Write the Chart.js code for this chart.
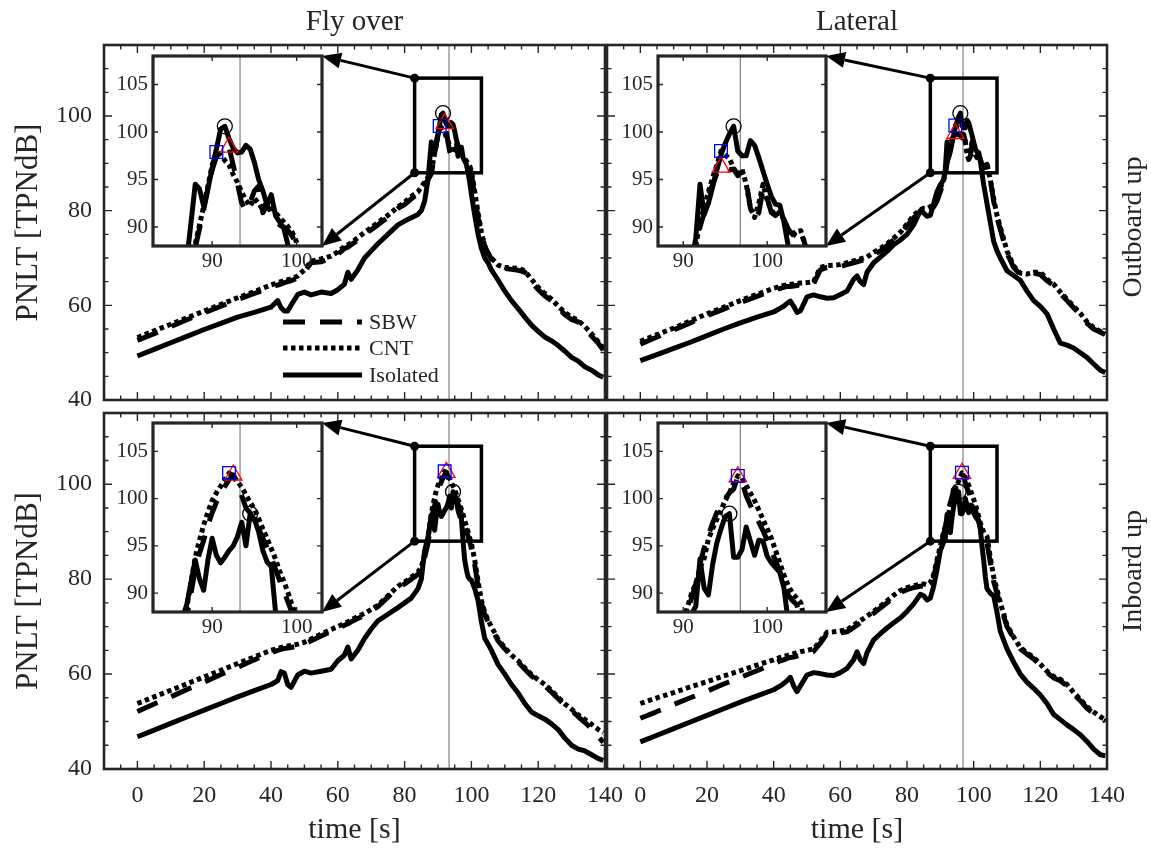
<!DOCTYPE html>
<html>
<head>
<meta charset="utf-8">
<script src="https://cdn.jsdelivr.net/npm/chart.js@4.4.1/dist/chart.umd.min.js"></script>
<style>
html,body{margin:0;padding:0;background:#fff;}
#stage{position:relative;width:1151px;height:851px;overflow:hidden;background:#fff;}
#stage canvas{position:absolute;left:0;top:0;}
</style>
</head>
<body>
<div id="stage"></div>
<script>
// ======================= DATA =======================
const SERIES_LABELS = ['SBW', 'CNT', 'Isolated'];
const COLUMN_TITLES = ['Fly over', 'Lateral'];
const ROW_TITLES = ['Outboard up', 'Inboard up'];
const X_TITLE = 'time [s]';
const Y_TITLE = 'PNLT [TPNdB]';
const X_TICKS = [0, 20, 40, 60, 80, 100, 120, 140];
const Y_TICKS = [40, 60, 80, 100];
const INSET_X_TICKS = [90, 100];
const INSET_Y_TICKS = [90, 95, 100, 105];
const OVERHEAD_T = [93.3, 96.8];          // grey vertical line (fly over, lateral)
const ZOOM_X = [[83, 103], [87, 107]];     // zoomed time window (fly over, lateral)
const ZOOM_Y = [88, 108];

const TIME_FLYOVER = [0,5,10,15,20,25,30,35,40,
  42,43,44,45,46,48,50,52,55,58,
  60,62,63,64,66,68,70,72,75,78,
  80,82,84,85,86,87,88,
  88.5,89,89.5,90,90.5,91,91.5,92,92.5,93,
  93.5,94,94.5,95,95.5,96,96.5,97,97.5,98,
  98.5,99,99.5,100,
  101,102,103,104,105,106,108,110,
  112,114,116,118,120,122,124,126,128,130,
  132,134,136,138,139.5];

const TIME_LATERAL = [0,5,10,15,20,25,30,35,40,
  42,43,44,45,46,47,48,
  50,52,54,56,58,60,62,64,65,66,
  67,68,70,72,74,76,78,80,82,84,
  85,86,87,88,89,90,91,
  91.5,92,92.5,93,93.5,94,94.5,95,95.5,96,
  96.5,97,97.5,98,98.5,99,99.5,100,100.5,101,
  101.5,102,102.5,103,103.5,104,
  105,106,107,108,110,112,114,116,118,120,
  122,124,126,128,130,132,134,136,138,139.5];

// Fly over, outboard up
const FLY_OUT_SBW = [52.6,54.0,55.5,57.0,58.4,59.8,61.2,62.5,63.8,
  64.3,64.5,64.8,65.0,65.2,65.8,67.0,69.0,69.2,70.0,
  70.8,72.0,72.3,72.8,73.8,75.0,76.0,77.0,78.6,80.5,
  81.3,82.5,83.5,84.5,85.5,86.5,87.8,
  89.8,91.8,94.0,96.0,97.4,98.0,98.3,98.4,96.5,94.5,
  92.5,91.8,92.6,93.8,94.3,91.5,92.3,91.5,90.8,90.2,
  90.0,89.6,89.0,88.0,
  83.0,78.5,75.0,72.5,71.0,69.8,68.3,67.8,
  67.6,67.4,67.0,65.0,63.3,62.0,61.0,59.5,58.0,57.0,
  56.5,55.0,53.5,52.0,50.5];
const FLY_OUT_CNT = [53.2,54.6,56.0,57.4,58.8,60.2,61.6,62.9,64.3,
  64.8,65.0,65.2,65.4,65.6,66.2,67.5,69.3,69.8,70.4,
  71.3,72.4,72.8,73.2,74.3,75.4,76.4,77.5,79.0,80.8,
  81.8,83.0,84.0,85.0,86.0,87.0,88.2,
  90.2,92.2,94.3,96.5,97.9,97.6,97.0,96.5,95.5,94.7,
  93.7,92.8,92.2,93.0,92.5,91.8,92.8,92.2,91.5,91.0,
  90.5,90.0,89.4,88.4,
  84.0,79.5,75.5,72.5,71.0,70.0,68.5,68.0,
  67.9,67.8,67.3,65.5,63.8,62.5,61.3,59.8,58.5,57.5,
  56.8,55.5,54.0,52.3,51.0];
const FLY_OUT_ISO = [49.3,50.7,52.1,53.5,54.9,56.2,57.5,58.5,59.6,
  61.0,59.5,58.8,58.8,60.0,62.3,62.8,62.2,62.8,62.5,
  63.3,64.5,67.0,65.5,67.5,70.0,71.5,73.0,75.0,77.0,
  77.8,78.5,79.2,80.0,82.0,86.5,94.5,
  94.0,92.2,94.0,96.2,98.2,100.3,100.6,99.3,98.3,97.8,
  97.9,98.6,98.2,96.8,95.0,93.8,92.3,93.4,91.2,90.5,
  89.8,88.0,86.0,83.5,
  79.0,75.0,72.0,70.0,69.0,67.5,65.3,63.0,
  61.0,59.3,57.5,55.8,54.5,53.3,52.5,51.5,50.3,49.0,
  48.2,47.0,46.3,45.3,44.8];

// Lateral, outboard up
const LAT_OUT_SBW = [51.8,53.3,54.8,56.3,57.8,59.2,60.6,61.9,63.2,
  63.6,63.8,64.0,64.0,64.1,64.2,64.3,
  64.4,64.6,67.5,68.0,68.0,68.2,68.6,69.0,69.2,69.4,
  69.6,69.8,70.8,71.5,72.6,73.8,75.0,76.8,78.5,79.7,
  80.0,80.0,80.2,80.8,82.0,84.0,86.0,
  87.5,90.0,91.5,93.2,94.5,95.6,96.3,96.2,96.0,96.1,
  95.4,95.8,94.8,92.0,90.8,91.5,94.0,93.0,91.5,91.2,
  91.8,90.8,89.8,89.2,89.6,89.8,
  86.5,82.0,78.5,76.0,71.0,68.0,66.5,66.3,66.8,66.5,
  65.2,64.2,62.5,61.0,59.5,58.0,56.2,55.0,54.3,53.8];
const LAT_OUT_CNT = [52.4,53.8,55.2,56.7,58.2,59.6,61.0,62.3,63.6,
  64.0,64.2,64.3,64.4,64.5,64.6,64.7,
  64.8,65.0,68.0,68.4,68.5,68.6,69.0,69.4,69.6,69.8,
  70.0,70.2,71.2,72.0,73.0,74.2,75.4,77.2,79.0,80.2,
  80.5,80.5,80.8,81.5,82.8,84.8,86.5,
  88.0,90.5,92.0,93.7,95.2,96.5,98.0,97.6,97.2,96.2,
  95.5,96.1,94.5,92.0,91.0,92.5,94.5,92.8,91.8,91.2,
  91.6,90.8,89.7,89.0,89.5,89.6,
  86.5,82.5,79.0,76.5,71.5,68.3,66.8,66.6,67.0,67.0,
  65.5,64.5,62.8,61.3,59.8,58.3,56.5,55.3,54.5,54.0];
const LAT_OUT_ISO = [48.3,49.6,50.9,52.2,53.6,55.0,56.3,57.5,58.6,
  59.4,59.8,60.4,60.9,59.8,58.5,58.8,
  61.8,62.2,61.8,61.5,61.6,62.3,63.0,65.5,66.2,65.0,
  64.4,67.0,69.0,70.2,71.4,72.8,73.8,75.0,77.0,80.0,
  79.5,78.8,79.0,81.5,84.0,85.5,86.5,
  88.8,94.5,91.3,92.5,94.2,96.0,97.6,98.8,99.8,100.6,
  98.0,97.5,97.5,99.1,98.6,97.3,95.9,94.5,93.2,92.4,
  92.3,90.5,88.0,85.5,83.5,81.5,
  77.5,73.5,71.5,70.0,67.3,66.3,65.3,63.0,61.0,59.8,
  58.2,55.0,52.0,51.6,51.0,50.0,49.0,47.6,46.3,45.8];

// Fly over, inboard up
const FLY_IN_SBW = [52.1,53.7,55.2,56.8,58.3,59.9,61.4,63.0,64.5,
  65.0,65.2,65.4,65.5,65.6,65.9,66.3,67.0,68.0,69.0,
  69.6,70.3,70.6,71.0,71.7,72.4,73.3,74.2,76.2,78.2,
  79.0,80.0,81.0,82.0,84.5,87.5,92.5,
  94.2,95.6,97.2,98.5,99.6,100.5,101.3,102.0,102.5,101.6,
  100.3,99.0,98.5,97.5,96.8,95.8,94.8,93.8,92.5,91.3,
  90.2,89.0,87.8,86.5,
  83.0,78.5,75.0,72.5,71.0,69.8,67.0,65.3,
  63.8,62.5,61.0,59.6,58.5,57.5,56.2,54.8,53.4,52.3,
  51.0,49.8,48.5,46.8,45.6];
const FLY_IN_CNT = [53.8,55.2,56.6,58.0,59.4,60.8,62.2,63.6,65.0,
  65.4,65.6,65.8,65.9,66.0,66.3,66.7,67.4,68.4,69.4,
  70.0,70.7,71.0,71.4,72.1,72.8,73.6,74.5,76.5,78.5,
  79.4,80.4,81.5,82.5,85.2,88.5,93.8,
  95.6,97.2,98.6,99.8,100.6,101.3,102.0,102.7,102.4,101.8,
  101.2,100.4,99.6,98.9,97.9,96.8,95.8,94.7,93.6,92.3,
  91.2,90.0,88.6,87.5,
  84.0,79.5,75.5,73.0,71.3,70.0,67.3,65.6,
  64.0,62.8,61.3,59.9,58.8,57.8,56.5,55.1,53.7,52.6,
  51.4,50.4,49.4,48.3,47.7];
const FLY_IN_ISO = [46.8,48.2,49.6,51.0,52.4,53.8,55.2,56.5,57.8,
  58.6,60.5,60.2,57.8,57.2,59.8,60.6,60.2,60.6,61.0,
  62.8,64.0,65.7,63.2,65.0,67.5,69.5,71.2,72.6,74.0,
  75.0,76.0,78.0,80.0,86.0,88.8,93.5,
  91.5,90.3,93.5,95.8,94.0,93.2,93.8,94.5,95.0,96.0,
  97.5,95.0,98.4,97.8,96.5,94.5,93.3,92.8,88.0,84.0,
  82.0,80.5,80.0,79.8,
  78.0,75.5,71.0,67.5,66.3,65.0,62.0,60.0,
  57.8,56.0,53.8,52.0,51.2,50.5,49.5,48.3,46.5,45.0,
  44.2,43.8,43.0,42.2,41.8];

// Lateral, inboard up
const LAT_IN_SBW = [50.7,52.1,53.6,55.0,56.4,57.9,59.3,60.7,62.2,
  62.8,63.0,63.3,63.5,63.6,63.8,64.0,
  64.4,64.8,66.5,68.5,68.6,68.7,68.9,69.8,70.3,70.8,
  71.3,71.8,72.8,73.9,75.0,76.2,77.2,77.8,78.2,78.5,
  78.6,78.4,78.8,80.5,83.5,86.5,89.5,
  91.0,93.1,94.8,96.1,97.4,98.5,99.3,100.0,100.6,101.0,
  102.3,101.8,100.3,99.3,98.3,97.5,96.6,95.6,94.5,93.4,
  92.3,91.1,89.8,89.2,88.8,87.5,
  83.5,79.5,77.0,74.5,70.0,67.5,65.3,64.2,63.2,61.8,
  60.3,59.2,58.6,57.5,55.8,54.4,52.8,51.7,50.7,50.1];
const LAT_IN_CNT = [53.8,55.0,56.1,57.3,58.4,59.6,60.7,61.9,63.0,
  63.5,63.7,63.9,64.1,64.3,64.5,64.7,
  65.0,65.3,67.0,68.8,68.9,69.1,69.3,70.3,70.8,71.3,
  71.7,72.2,73.2,74.3,75.4,76.6,77.6,78.2,78.6,78.9,
  79.0,78.8,79.3,81.0,84.0,87.0,90.0,
  91.0,92.7,93.7,95.7,96.8,97.8,98.8,99.8,100.6,101.6,
  102.4,102.2,101.4,100.6,99.8,98.8,97.8,96.8,95.8,94.5,
  93.2,91.9,90.8,90.0,89.5,89.0,
  84.5,80.5,77.8,75.0,70.3,67.8,65.6,64.5,63.5,62.1,
  60.6,59.5,58.9,57.8,56.1,54.7,53.1,52.0,51.0,50.4];
const LAT_IN_ISO = [45.7,47.1,48.5,49.9,51.3,52.7,54.1,55.4,56.7,
  57.5,58.0,58.6,59.3,57.5,56.3,57.5,
  59.8,60.3,60.1,59.8,59.7,60.3,61.2,63.0,64.7,63.0,
  62.2,64.5,67.2,68.5,69.7,70.8,71.8,73.2,74.8,76.8,
  76.5,75.6,76.0,78.5,82.0,86.0,87.8,
  88.6,93.6,90.5,89.8,93.0,95.3,96.8,98.1,98.4,93.8,
  93.8,94.6,97.0,95.5,94.0,95.6,95.5,93.9,93.2,92.7,
  92.2,90.5,87.0,84.0,80.5,78.0,
  77.0,76.5,73.0,69.0,65.3,62.5,60.0,58.3,57.0,55.6,
  53.8,51.5,50.4,49.3,48.3,47.2,45.8,44.2,43.0,42.8];

// ======================= LAYOUT / STYLE =======================
const W = 1151, H = 851;
const INK = '#262626';
const FONT = "'Liberation Serif','Times New Roman',serif";
const COL_X = [[104, 605], [607, 1107]];
const ROW_Y = [[45, 400], [413, 769]];
const INSET_X = [[153, 322], [658, 826]];
const INSET_Y = [[56, 246], [423, 612]];
const ROW_LABEL_Y = [227, 571];
const DASH = {SBW: [22, 15], CNT: [4.5, 3.5], Isolated: []};
const LINE_W = 5;

const PANELS = [
  {row: 0, col: 0, t: TIME_FLYOVER, sbw: FLY_OUT_SBW, cnt: FLY_OUT_CNT, iso: FLY_OUT_ISO, legend: true},
  {row: 0, col: 1, t: TIME_LATERAL, sbw: LAT_OUT_SBW, cnt: LAT_OUT_CNT, iso: LAT_OUT_ISO},
  {row: 1, col: 0, t: TIME_FLYOVER, sbw: FLY_IN_SBW, cnt: FLY_IN_CNT, iso: FLY_IN_ISO},
  {row: 1, col: 1, t: TIME_LATERAL, sbw: LAT_IN_SBW, cnt: LAT_IN_CNT, iso: LAT_IN_ISO}
];

const stage = document.getElementById('stage');
function newCtx() {
  const c = document.createElement('canvas');
  c.width = W; c.height = H;
  c.style.width = W + 'px'; c.style.height = H + 'px';
  stage.appendChild(c);
  return c.getContext('2d');
}
function pts(t, v) { return t.map((x, i) => ({x: x, y: v[i]})); }
function peak(t, v) { let k = 0; for (let i = 1; i < v.length; i++) if (v[i] > v[k]) k = i; return [{x: t[k], y: v[k]}]; }

function makeDatasets(p) {
  const series = [p.sbw, p.cnt, p.iso];
  const ds = SERIES_LABELS.map((lab, i) => ({
    label: lab, data: pts(p.t, series[i]), borderColor: '#000', borderWidth: LINE_W,
    borderDash: DASH[lab], pointRadius: 0, tension: 0, fill: false,
    borderJoinStyle: 'round', borderCapStyle: 'butt', order: 3 - i, clip: 0
  }));
  const mk = (data, style, r, color) => ({label: 'peak', data: data, showLine: false, pointStyle: style,
    pointRadius: r, pointBorderColor: color, pointBackgroundColor: 'rgba(0,0,0,0)', pointBorderWidth: 1.3, order: 0, clip: 0});
  ds.push(mk(peak(p.t, p.iso), 'circle', 7.5, '#000'));
  ds.push(mk(peak(p.t, p.cnt), 'rect', 9, '#0000ff'));
  ds.push(mk(peak(p.t, p.sbw), 'triangle', 10, '#ff0000'));
  return ds;
}

function drawArrow(ctx, x0, y0, x1, y1) {
  const ang = Math.atan2(y1 - y0, x1 - x0), L = 19, Wd = 8;
  const bx = x1 - L * Math.cos(ang), by = y1 - L * Math.sin(ang);
  ctx.beginPath(); ctx.moveTo(x0, y0); ctx.lineTo(bx, by); ctx.stroke();
  ctx.beginPath(); ctx.moveTo(x1, y1);
  ctx.lineTo(bx + Wd * Math.sin(ang), by - Wd * Math.cos(ang));
  ctx.lineTo(bx - Wd * Math.sin(ang), by + Wd * Math.cos(ang));
  ctx.closePath(); ctx.fill();
}

function decorMain(p) {
  return {
    id: 'decorMain',
    beforeDatasetsDraw(chart) {
      const {ctx, chartArea: a, scales: {x}} = chart;
      const px = x.getPixelForValue(OVERHEAD_T[p.col]);
      ctx.save(); ctx.strokeStyle = '#808080'; ctx.lineWidth = 1.2;
      ctx.beginPath(); ctx.moveTo(px, a.top); ctx.lineTo(px, a.bottom); ctx.stroke(); ctx.restore();
    },
    afterDatasetsDraw(chart) {
      const {ctx, chartArea: a, scales: {x, y}} = chart;
      ctx.save();
      ctx.strokeStyle = INK; ctx.lineWidth = 1.4; ctx.beginPath();
      for (let v = -10; v <= 140; v += 5) {
        const px = x.getPixelForValue(v), len = (v % 20 === 0) ? 8 : 4.5;
        ctx.moveTo(px, a.bottom); ctx.lineTo(px, a.bottom - len);
        ctx.moveTo(px, a.top); ctx.lineTo(px, a.top + len);
      }
      for (let v = 40; v <= 115; v += 5) {
        const py = y.getPixelForValue(v), len = (v % 20 === 0) ? 8 : 4.5;
        ctx.moveTo(a.left, py); ctx.lineTo(a.left + len, py);
        ctx.moveTo(a.right, py); ctx.lineTo(a.right - len, py);
      }
      ctx.stroke();
      ctx.lineWidth = 2.6; ctx.strokeRect(a.left, a.top, a.right - a.left, a.bottom - a.top);
      // zoom rectangle
      const zx = ZOOM_X[p.col];
      const rx0 = x.getPixelForValue(zx[0]), rx1 = x.getPixelForValue(zx[1]);
      const ry0 = y.getPixelForValue(ZOOM_Y[1]), ry1 = y.getPixelForValue(ZOOM_Y[0]);
      ctx.strokeStyle = '#000'; ctx.fillStyle = '#000'; ctx.lineWidth = 3.5;
      ctx.strokeRect(rx0, ry0, rx1 - rx0, ry1 - ry0);
      ctx.lineWidth = 3;
      drawArrow(ctx, rx0, ry0, INSET_X[p.col][1], INSET_Y[p.row][0]);
      drawArrow(ctx, rx0, ry1, INSET_X[p.col][1], INSET_Y[p.row][1]);
      ctx.beginPath(); ctx.arc(rx0, ry0, 4.5, 0, Math.PI * 2); ctx.fill();
      ctx.beginPath(); ctx.arc(rx0, ry1, 4.5, 0, Math.PI * 2); ctx.fill();
      // texts
      ctx.fillStyle = INK;
      if (p.row === 0) {
        ctx.font = '29px ' + FONT; ctx.textAlign = 'center'; ctx.textBaseline = 'alphabetic';
        ctx.fillText(COLUMN_TITLES[p.col], (a.left + a.right) / 2, 30);
      }
      if (p.col === 1) {
        ctx.save(); ctx.translate(1134, ROW_LABEL_Y[p.row]); ctx.rotate(-Math.PI / 2);
        ctx.font = '28px ' + FONT; ctx.textAlign = 'center'; ctx.textBaseline = 'middle';
        ctx.fillText(ROW_TITLES[p.row], 0, 0); ctx.restore();
      }
      if (p.legend) {
        const rows = [277, 303, 330];
        ctx.font = '22px ' + FONT; ctx.textAlign = 'left'; ctx.textBaseline = 'middle';
        SERIES_LABELS.forEach((lab, i) => {
          const ly = a.top + rows[i];
          ctx.strokeStyle = '#000'; ctx.lineWidth = LINE_W; ctx.lineCap = 'butt'; ctx.setLineDash(DASH[lab]);
          ctx.beginPath(); ctx.moveTo(a.left + 179, ly); ctx.lineTo(a.left + 258, ly); ctx.stroke();
          ctx.setLineDash([]); ctx.fillStyle = INK;
          ctx.fillText(lab, a.left + 265, ly + 1);
        });
      }
      ctx.restore();
    }
  };
}

function decorInset(p) {
  return {
    id: 'decorInset',
    beforeDraw(chart) {
      const {ctx, chartArea: a} = chart;
      ctx.save(); ctx.fillStyle = '#fff'; ctx.fillRect(a.left, a.top, a.right - a.left, a.bottom - a.top); ctx.restore();
    },
    beforeDatasetsDraw(chart) {
      const {ctx, chartArea: a, scales: {x}} = chart;
      const px = x.getPixelForValue(OVERHEAD_T[p.col]);
      ctx.save(); ctx.strokeStyle = '#808080'; ctx.lineWidth = 1.2;
      ctx.beginPath(); ctx.moveTo(px, a.top); ctx.lineTo(px, a.bottom); ctx.stroke(); ctx.restore();
    },
    afterDatasetsDraw(chart) {
      const {ctx, chartArea: a, scales: {x, y}} = chart;
      ctx.save(); ctx.strokeStyle = INK; ctx.lineWidth = 1.4; ctx.beginPath();
      INSET_X_TICKS.forEach(v => { const px = x.getPixelForValue(v);
        ctx.moveTo(px, a.bottom); ctx.lineTo(px, a.bottom - 5); ctx.moveTo(px, a.top); ctx.lineTo(px, a.top + 5); });
      INSET_Y_TICKS.forEach(v => { const py = y.getPixelForValue(v);
        ctx.moveTo(a.left, py); ctx.lineTo(a.left + 5, py); ctx.moveTo(a.right, py); ctx.lineTo(a.right - 5, py); });
      ctx.stroke();
      ctx.lineWidth = 3.2; ctx.strokeRect(a.left, a.top, a.right - a.left, a.bottom - a.top);
      ctx.restore();
    }
  };
}

const BASE_OPTS = {responsive: false, animation: false, devicePixelRatio: 1, events: [],
  plugins: {legend: {display: false}, tooltip: {enabled: false}, title: {display: false}}};

function mainChart(p) {
  const [L, R] = COL_X[p.col], [T, B] = ROW_Y[p.row];
  const showY = p.col === 0, showX = p.row === 1;
  const yW = showY ? L - 8 : 0, xH = showX ? H - B : 0;
  new Chart(newCtx(), {
    type: 'line',
    data: {datasets: makeDatasets(p)},
    options: Object.assign({}, BASE_OPTS, {
      layout: {padding: {left: L - yW, right: W - R, top: T, bottom: H - B - xH}},
      scales: {
        x: {type: 'linear', min: -10, max: 140, grid: {display: false, drawTicks: false}, border: {display: false},
          ticks: {display: showX, padding: 12, autoSkip: false, maxRotation: 0, color: INK, font: {family: FONT, size: 24}},
          afterBuildTicks: s => { s.ticks = X_TICKS.map(v => ({value: v})); },
          afterFit: s => { s.height = xH; },
          title: {display: showX, text: X_TITLE, color: INK, font: {family: FONT, size: 30}, padding: {top: 0, bottom: 3}}},
        y: {type: 'linear', min: 40, max: 115, grid: {display: false, drawTicks: false}, border: {display: false},
          ticks: {display: showY, padding: 12, autoSkip: false, color: INK, font: {family: FONT, size: 24}},
          afterBuildTicks: s => { s.ticks = Y_TICKS.map(v => ({value: v})); },
          afterFit: s => { s.width = yW; },
          title: {display: showY, text: Y_TITLE, color: INK, font: {family: FONT, size: 31}, padding: {top: 2, bottom: 0}}}
      }
    }),
    plugins: [decorMain(p)]
  });
}

function insetChart(p) {
  const [L, R] = INSET_X[p.col], [T, B] = INSET_Y[p.row];
  const yW = 56, xH = 34;
  const zx = ZOOM_X[p.col];
  new Chart(newCtx(), {
    type: 'line',
    data: {datasets: makeDatasets(p)},
    options: Object.assign({}, BASE_OPTS, {
      layout: {padding: {left: L - yW, right: W - R, top: T, bottom: H - B - xH}},
      scales: {
        x: {type: 'linear', min: zx[0], max: zx[1], grid: {display: false, drawTicks: false}, border: {display: false},
          ticks: {padding: 3, autoSkip: false, maxRotation: 0, color: INK, font: {family: FONT, size: 21}},
          afterBuildTicks: s => { s.ticks = INSET_X_TICKS.map(v => ({value: v})); },
          afterFit: s => { s.height = xH; }},
        y: {type: 'linear', min: ZOOM_Y[0], max: ZOOM_Y[1], grid: {display: false, drawTicks: false}, border: {display: false},
          ticks: {padding: 5, autoSkip: false, color: INK, font: {family: FONT, size: 21}},
          afterBuildTicks: s => { s.ticks = INSET_Y_TICKS.map(v => ({value: v})); },
          afterFit: s => { s.width = yW; }}
      }
    }),
    plugins: [decorInset(p)]
  });
}

PANELS.forEach(p => { mainChart(p); insetChart(p); });
</script>
</body>
</html>
